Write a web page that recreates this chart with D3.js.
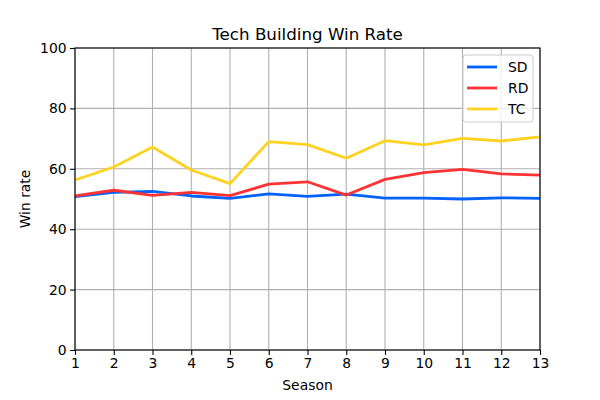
<!DOCTYPE html>
<html><head><meta charset="utf-8">
<script src="https://cdn.jsdelivr.net/npm/d3@7/dist/d3.min.js"></script>
<style>body{margin:0;background:#fff}svg{display:block;font-family:"DejaVu Sans",sans-serif}</style>
</head><body><svg id="c" width="600" height="400"></svg>
<script>
const seasons = [1,2,3,4,5,6,7,8,9,10,11,12,13];
const sd = [50.8,52.2,52.5,51.0,50.2,51.7,50.9,51.6,50.3,50.3,50.0,50.4,50.2];
const rd = [51.0,52.9,51.2,52.2,51.1,54.9,55.7,51.3,56.5,58.7,59.8,58.3,57.9];
const tc = [56.3,60.6,67.2,59.6,55.1,69.0,68.0,63.5,69.3,67.9,70.1,69.2,70.6];
const seriesNames = ["SD","RD","TC"];
const colors = ["#0062ff","#ff3333","#ffd21f"];
const yTicks = [0,20,40,60,80,100];

const svg = d3.select("#c");
const L=75,R=540,T=48,B=350;
const x = d3.scaleLinear().domain([1,13]).range([L,R]);
const y = d3.scaleLinear().domain([0,100]).range([B,T]);

// grid
svg.append("g").selectAll("line").data(seasons).join("line")
  .attr("x1",d=>x(d)).attr("x2",d=>x(d)).attr("y1",T).attr("y2",B)
  .attr("stroke","#b0b0b0").attr("stroke-width",1.1);
svg.append("g").selectAll("line").data(yTicks).join("line")
  .attr("x1",L).attr("x2",R).attr("y1",d=>y(d)).attr("y2",d=>y(d))
  .attr("stroke","#b0b0b0").attr("stroke-width",1.1);

// lines
const data = [sd,rd,tc];
const line = d3.line().x((d,i)=>x(seasons[i])).y(d=>y(d));
data.forEach((s,k)=>{
  svg.append("path").attr("d",line(s)).attr("fill","none")
    .attr("stroke",colors[k]).attr("stroke-width",2.8).attr("stroke-linejoin","round");
});

// axes
const xa = svg.append("g").attr("transform",`translate(0,${B})`)
  .call(d3.axisBottom(x).tickValues(seasons).tickFormat(d3.format("d")).tickSize(4.9).tickPadding(3.5));
const ya = svg.append("g").attr("transform",`translate(${L},0)`)
  .call(d3.axisLeft(y).tickValues(yTicks).tickSize(4.9).tickPadding(3.5));
[xa,ya].forEach(a=>{
  a.select(".domain").remove();
  a.selectAll("text").attr("font-size","13.9px").attr("fill","#000").attr("font-family","DejaVu Sans");
  a.selectAll("line").attr("stroke","#000").attr("stroke-width",1.1);
});
// spines
svg.append("rect").attr("x",L).attr("y",T).attr("width",R-L).attr("height",B-T)
  .attr("fill","none").attr("stroke","#000").attr("stroke-width",1.1);

// title and labels
svg.append("text").attr("x",(L+R)/2).attr("y",40).attr("text-anchor","middle")
  .attr("font-size","16.7px").text("Tech Building Win Rate");
svg.append("text").attr("x",(L+R)/2).attr("y",390).attr("text-anchor","middle")
  .attr("font-size","13.9px").text("Season");
svg.append("text").attr("transform",`translate(30,${(T+B)/2}) rotate(-90)`).attr("text-anchor","middle")
  .attr("font-size","13.9px").text("Win rate");

// legend
const lg = svg.append("g");
lg.append("rect").attr("x",463).attr("y",55).attr("width",70).attr("height",67).attr("rx",3)
  .attr("fill","#fff").attr("fill-opacity",0.8).attr("stroke","#cccccc").attr("stroke-width",1);
seriesNames.forEach((n,k)=>{
  const yy = 67 + k*21;
  lg.append("line").attr("x1",467).attr("x2",497).attr("y1",yy).attr("y2",yy)
    .attr("stroke",colors[k]).attr("stroke-width",2.8);
  lg.append("text").attr("x",508).attr("y",yy+5).attr("font-size","13.9px").text(n);
});
</script></body></html>
